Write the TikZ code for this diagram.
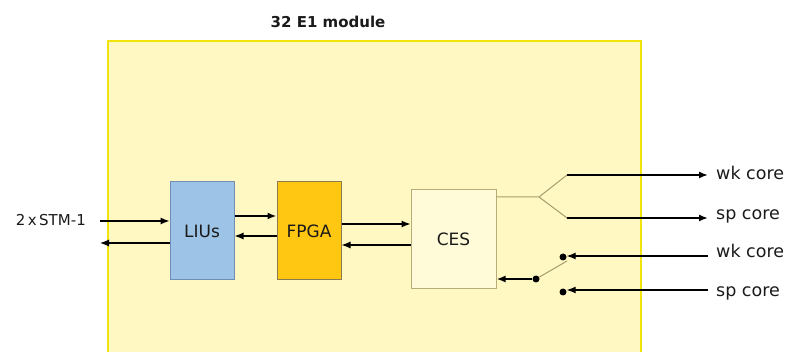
\documentclass[tikz,border=0pt]{standalone}
\usepackage{fontspec}
\setmainfont{DejaVu Sans}
\usetikzlibrary{arrows.meta}
\definecolor{modfill}{HTML}{FFF8C2}
\definecolor{modborder}{HTML}{F2E40A}
\definecolor{liufill}{HTML}{9DC3E6}
\definecolor{liudraw}{HTML}{6F8EB5}
\definecolor{fpgafill}{HTML}{FFC612}
\definecolor{fpgadraw}{HTML}{8C7A50}
\definecolor{cesfill}{HTML}{FFFBD8}
\definecolor{cesdraw}{HTML}{B8AC78}
\definecolor{tanline}{HTML}{A89C70}
\definecolor{txt}{HTML}{1A1A1A}
\tikzset{
  lbl/.style={font=\fontsize{17.5}{20}\selectfont, inner sep=0pt, text=txt},
  blk/.style={draw, line width=1pt, minimum width=64pt, minimum height=98pt, font=\fontsize{17}{20}\selectfont, inner sep=0pt, text=txt},
  arr/.style={-{Latex[length=9pt,width=7pt]}, line width=1.2pt},
  tarr/.style={-{Latex[length=9pt,width=7pt]}, line width=2.2pt},
  oarr/.style={-{Latex[length=9pt,width=7pt]}, line width=1.7pt},
  dot/.style={circle, fill=black, inner sep=0pt, minimum size=7pt},
}
\begin{document}
\begin{tikzpicture}[x=1pt,y=-1pt]
\useasboundingbox (0,0) rectangle (787,352);
\clip (0,0) rectangle (787,352);
\node[draw=modborder, fill=modfill, line width=2pt, anchor=north west, minimum width=533pt, minimum height=340pt, inner sep=0pt] (mod) at (107,40) {};
\node[font=\fontsize{15}{18}\selectfont\bfseries, inner sep=0pt, text=txt] (title) at (328,22) {32 E1 module};
\node[blk, fill=liufill, draw=liudraw] (liu) at (202,231) {LIUs};
\node[blk, fill=fpgafill, draw=fpgadraw] (fpga) at (309,231) {FPGA};
\node[blk, fill=cesfill, draw=cesdraw, minimum width=85pt, minimum height=99pt] (ces) at (453.5,239.5) {CES};
\node[lbl, font=\fontsize{15}{18}\selectfont, anchor=east] (stm) at (86,220) {2\,x\,STM-1};
% coordinates for connector heights
\coordinate (a1) at (100,221);
\coordinate (a2) at (100,243);
\coordinate (b1) at (0,216);
\coordinate (b2) at (0,236);
\coordinate (c1) at (0,224);
\coordinate (c2) at (0,245);
\draw[arr] (a1) -- (liu.west |- a1);
\draw[arr] (liu.west |- a2) -- (a2);
\draw[tarr] (liu.east |- b1) -- (fpga.west |- b1);
\draw[arr] (fpga.west |- b2) -- (liu.east |- b2);
\draw[arr] (fpga.east |- c1) -- (ces.west |- c1);
\draw[arr] (ces.west |- c2) -- (fpga.east |- c2);
% splitter
\coordinate (s0) at (496,197);
\coordinate (sp) at (539,197);
\coordinate (su) at (567,175);
\coordinate (sd) at (567,218);
\coordinate (eu) at (708,175);
\coordinate (ed) at (708,218);
\draw[tanline, line width=1pt] (ces.east |- s0) -- (sp) -- (su);
\draw[tanline, line width=1pt] (sp) -- (sd);
\draw[oarr] (su) -- (eu);
\draw[oarr] (sd) -- (ed);
\node[lbl, anchor=west] (wk1) at (716,173) {wk core};
\node[lbl, anchor=west] (sp1) at (716,216) {sp core};
% switch
\node[dot] (dwk) at (563,257) {};
\node[dot] (dsp) at (563,292) {};
\node[dot] (dsw) at (536,279) {};
\coordinate (iw) at (708,256);
\coordinate (is) at (708,290);
\draw[arr] (iw) -- (dwk.east |- iw);
\draw[arr] (is) -- (dsp.east |- is);
\node[lbl, anchor=west] (wk2) at (716,251) {wk core};
\node[lbl, anchor=west] (sp2) at (716,293) {sp core};
\draw[tanline, line width=1pt] (dsw) -- (567,261);
\draw[tarr] (dsw) -- (ces.east |- dsw);
\end{tikzpicture}
\end{document}
